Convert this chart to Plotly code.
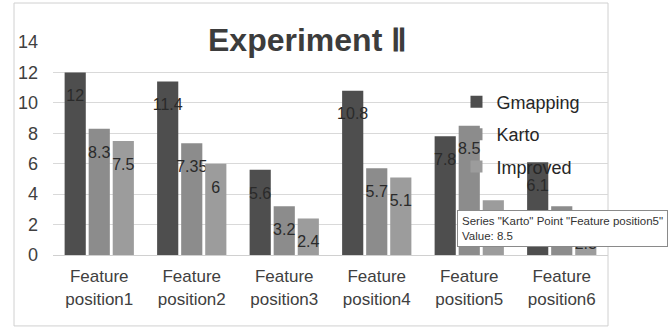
import plotly.graph_objects as go

categories = ["Feature<br>position1", "Feature<br>position2", "Feature<br>position3",
              "Feature<br>position4", "Feature<br>position5", "Feature<br>position6"]
series_names = ["Gmapping", "Karto", "Improved"]
gmapping = [12, 11.4, 5.6, 10.8, 7.8, 6.1]
karto = [8.3, 7.35, 3.2, 5.7, 8.5, 3.2]
improved = [7.5, 6, 2.4, 5.1, 3.6, 2.3]
y_ticks = [0, 2, 4, 6, 8, 10, 12, 14]
title_text = "Experiment Ⅱ"
tooltip_text = 'Series "Karto" Point "Feature position5"<br>Value: 8.5'

colors = ["#4e4e4e", "#8c8c8c", "#9c9c9c"]
FONT = "Liberation Sans, Arial, sans-serif"

fig = go.Figure()
for name, vals, col in zip(series_names, [gmapping, karto, improved], colors):
    fig.add_trace(go.Bar(
        name=name, x=categories, y=vals,
        marker=dict(color=col, line=dict(width=0)),
        text=[f"<span style='font-size:6px'>\u00a0</span><br>{v:g}" for v in vals],
        textposition="inside", insidetextanchor="end",
        constraintext="none", textangle=0,
        textfont=dict(family=FONT, size=16, color="#2a2a2a"),
        legendgroup=name,
    ))

fig.update_layout(
    width=668, height=327,
    margin=dict(l=53, r=60, t=42, b=72),
    paper_bgcolor="white", plot_bgcolor="white",
    barmode="group", bargap=0.22, bargroupgap=0.12,
    font=dict(family=FONT, color="#404040"),
    showlegend=True,
    legend=dict(x=0.727, y=0.805, xanchor="left", yanchor="top",
                bgcolor="rgba(0,0,0,0)", tracegroupgap=6,
                font=dict(family=FONT, size=18, color="#262626")),
    xaxis=dict(showgrid=False, showline=True, linecolor="#d0d0d0", linewidth=1,
               tickfont=dict(family=FONT, size=17, color="#404040"),
               ticks="", ticklabelstandoff=6),
    yaxis=dict(range=[0, 14], tickvals=y_ticks, showgrid=True, gridcolor="#d9d9d9",
               gridwidth=1, zeroline=False, showline=False, ticks="",
               tickfont=dict(family=FONT, size=18, color="#404040"),
               ticklabelstandoff=14),
    shapes=[dict(type="rect", xref="paper", yref="paper",
                 x0=(14 - 53) / 555, x1=1.0, y0=-0.333, y1=1.183,
                 line=dict(color="#d0d0d0", width=1), fillcolor="rgba(0,0,0,0)",
                 layer="below")],
    annotations=[
        dict(text=f"<b>{title_text}</b>", xref="paper", yref="paper",
             x=0.458, y=1.009, xanchor="center", yanchor="middle", showarrow=False,
             font=dict(family=FONT, size=32, color="#3c3c3c")),
        dict(text=tooltip_text, xref="paper", yref="paper",
             x=(457 - 53) / 555, y=(255 - 210) / 213, xanchor="left", yanchor="top",
             align="left", showarrow=False, bgcolor="white", bordercolor="#8a8a8a",
             borderwidth=1, borderpad=4,
             font=dict(family="Liberation Sans, sans-serif",
                       size=11.5, color="#333333")),
    ],
)

fig.write_html("out.html", config={"displayModeBar": False},
               post_script="document.body.style.margin='0';")
